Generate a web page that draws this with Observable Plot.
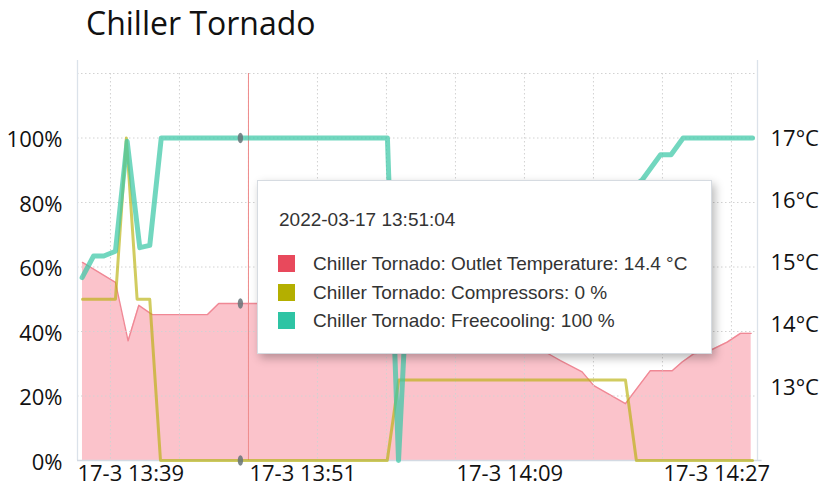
<!DOCTYPE html>
<html>
<head>
<meta charset="utf-8">
<script src="https://cdn.jsdelivr.net/npm/d3@7"></script>
<script src="https://cdn.jsdelivr.net/npm/@observablehq/plot@0.6"></script>
<style>
  html, body { margin: 0; padding: 0; background: #fff; }
  #wrap { position: relative; width: 822px; height: 490px; overflow: hidden; }
  #title { position: absolute; left: 86px; top: 1px; font-family: "Open Sans", sans-serif; font-size: 32px; line-height: 44px; color: #111; white-space: nowrap; }
  .layer { position: absolute; left: 0; top: 50px; }
  #tip { position: absolute; left: 257px; top: 180px; width: 455px; height: 174px; box-sizing: border-box;
         background: #fff; border: 1px solid #d6dbe1; box-shadow: 3px 4px 9px rgba(0,0,0,0.28);
         font-family: "Liberation Sans", Arial, sans-serif; font-size: 19px; line-height: 19px; color: #333; }
  #tip .t { position: absolute; white-space: nowrap; }
  #tip .sw { position: absolute; width: 17px; height: 17px; }
</style>
</head>
<body>
<div id="wrap">
  <div id="title">Chiller Tornado</div>
  <div id="back" class="layer"></div>
  <div id="front" class="layer"></div>
  <div id="tip"></div>
</div>
<script>
// ---------- data ----------
const day = "2022-03-17";
const xDomain = ["13:36:08", "14:35:16"];

// Outlet temperature (°C)
const tempTimes = ["13:36:34","13:39:26","13:40:32","13:41:28","13:42:38","13:47:25","13:48:25","13:58:08","14:03:21","14:06:50","14:11:10","14:14:39","14:17:00","14:18:08","14:20:01","14:21:02","14:23:47","14:25:57","14:27:51","14:28:43","14:29:43","14:30:53","14:32:38","14:33:47","14:34:43"];
const tempValues = [15.01,14.69,13.75,14.32,14.17,14.17,14.35,14.35,14.3,14.15,13.95,13.75,13.55,13.43,13.25,13.03,12.74,13.27,13.27,13.41,13.54,13.57,13.73,13.87,13.87];

// Compressors (%)
const compTimes = ["13:36:34","13:39:26","13:40:23","13:41:19","13:42:25","13:43:21","14:03:04","14:04:04","14:23:47","14:24:44","14:34:50"];
const compValues = [50,50,100,50,50,0,0,25,25,0,0];

// Freecooling (%)
const freeTimes = ["13:36:32","13:37:32","13:38:25","13:39:26","13:40:27","13:41:33","13:42:25","13:43:25","14:03:05","14:04:03","14:05:05","14:06:50","14:10:18","14:14:39","14:19:52","14:23:21","14:25:14","14:26:50","14:27:45","14:28:48","14:34:50"];
const freeValues = [56.7,63.4,63.4,64.9,99,66,66.7,100,100,0,74,76,76,78,80,82,87,94.8,94.8,100,100];

// axes
const pctTicks = [0,20,40,60,80,100];
const pctGrid = [0,20,40,60,80,100,120];
const tempTicks = [13,14,15,16,17];
const tempDomain = [11.827, 18.044];
const gridTimes = ["13:39","13:45","13:51","13:57","14:03","14:09","14:15","14:21","14:27","14:33"];
const labelTimes = ["13:39","13:51","14:09","14:27"];

// hover state
const crosshairTime = "13:51:00";
const hoverTime = "13:50:18";
const hoverTemp = 14.35;
const hoverComp = 0;
const hoverFree = 100;
const tipDate = "2022-03-17 13:51:04";
const tipLabels = ["Chiller Tornado: Outlet Temperature: 14.4 °C","Chiller Tornado: Compressors: 0 %","Chiller Tornado: Freecooling: 100 %"];
const tipColors = ["#e8495c","#b4af00","#2ec4a4"];

// ---------- helpers ----------
const T = s => new Date(`${day}T${s.length === 5 ? s + ":00" : s}Z`);
const temp = tempTimes.map((t, i) => ({time: T(t), v: tempValues[i]}));
const comp = compTimes.map((t, i) => ({time: T(t), v: compValues[i]}));
const free = freeTimes.map((t, i) => ({time: T(t), v: freeValues[i]}));
const fmt = d3.utcFormat("17-3 %H:%M");

const ellipse = {
  draw(ctx) {
    const rx = 2.7, ry = 5.2, k = 0.5523;
    ctx.moveTo(rx, 0);
    ctx.bezierCurveTo(rx, ry * k, rx * k, ry, 0, ry);
    ctx.bezierCurveTo(-rx * k, ry, -rx, ry * k, -rx, 0);
    ctx.bezierCurveTo(-rx, -ry * k, -rx * k, -ry, 0, -ry);
    ctx.bezierCurveTo(rx * k, -ry, rx, -ry * k, rx, 0);
    ctx.closePath();
  }
};

const common = {
  width: 822, height: 440,
  marginLeft: 77, marginRight: 65, marginTop: 23, marginBottom: 30
};
const axisFont = {fontFamily: "'Open Sans', sans-serif", fontSize: "22px", color: "#111"};
const gridStyle = {stroke: "#d2d2d2", strokeOpacity: 1, strokeDasharray: "1.5,2.5"};

// ---------- back layer: temperature area + right axis ----------
const back = Plot.plot({
  ...common,
  style: {background: "#fff", ...axisFont},
  x: {type: "utc", domain: xDomain.map(T), axis: null},
  y: {domain: tempDomain},
  marks: [
    Plot.areaY(temp, {x: "time", y1: tempDomain[0], y2: "v", fill: "#fbc3cb"}),
    Plot.lineY(temp, {x: "time", y: "v", stroke: "#f08895", strokeWidth: 1.4}),
    Plot.axisY(tempTicks, {anchor: "right", tickSize: 0, tickPadding: 13, tickFormat: d => d + "°C", label: null, fill: "#111"}),
    Plot.dot([hoverTemp], {x: () => T(hoverTime), y: d => d, symbol: ellipse, fill: "#667378", fillOpacity: 0.85})
  ]
});
document.getElementById("back").append(back);

// ---------- front layer: grid, left axis, lines ----------
const front = Plot.plot({
  ...common,
  style: {background: "transparent", ...axisFont},
  x: {type: "utc", domain: xDomain.map(T)},
  y: {domain: [0, 120]},
  marks: [
    Plot.gridY(pctGrid, gridStyle),
    Plot.gridX(gridTimes.map(T), gridStyle),
    Plot.ruleX([T(xDomain[0]), T(xDomain[1])], {y1: 0, y2: 124, stroke: "#dbe2ea", strokeWidth: 1.3}),
    Plot.ruleY([0], {x1: T(xDomain[0]), x2: T("14:35:40"), stroke: "#d3dae3", strokeWidth: 1.5}),
    Plot.axisY(pctTicks, {tickSize: 0, tickPadding: 15, tickFormat: d => d + "%", label: null, fill: "#111", dy: 2}),
    Plot.axisX(labelTimes.slice(0, 1).map(T), {tickSize: 0, tickPadding: 5, textAnchor: "start", dx: -33, tickFormat: fmt, label: null, fill: "#111"}),
    Plot.axisX(labelTimes.slice(1).map(T), {tickSize: 0, tickPadding: 5, textAnchor: "start", dx: 1, tickFormat: fmt, label: null, fill: "#111"}),
    Plot.ruleX([T(crosshairTime)], {y1: 0, y2: 120, stroke: "#ef8a8a", strokeWidth: 1}),
    Plot.lineY(comp, {x: "time", y: "v", stroke: "#b8b00a", strokeOpacity: 0.65, strokeWidth: 3}),
    Plot.lineY(free, {x: "time", y: "v", stroke: "#3cc7a6", strokeOpacity: 0.72, strokeWidth: 5}),
    Plot.dot([hoverFree, hoverComp], {x: () => T(hoverTime), y: d => d, symbol: ellipse, fill: "#667378", fillOpacity: 0.85})
  ]
});
document.getElementById("front").append(front);

// ---------- tooltip ----------
const tip = document.getElementById("tip");
const dateEl = document.createElement("div");
dateEl.className = "t";
dateEl.style.left = "21px";
dateEl.style.top = "29px";
dateEl.textContent = tipDate;
tip.append(dateEl);
tipLabels.forEach((lab, i) => {
  const sw = document.createElement("div");
  sw.className = "sw";
  sw.style.left = "20px";
  sw.style.top = (74 + i * 28.7) + "px";
  sw.style.background = tipColors[i];
  tip.append(sw);
  const t = document.createElement("div");
  t.className = "t";
  t.style.left = "55px";
  t.style.top = (73 + i * 28.7) + "px";
  t.textContent = lab;
  tip.append(t);
});
</script>
</body>
</html>
